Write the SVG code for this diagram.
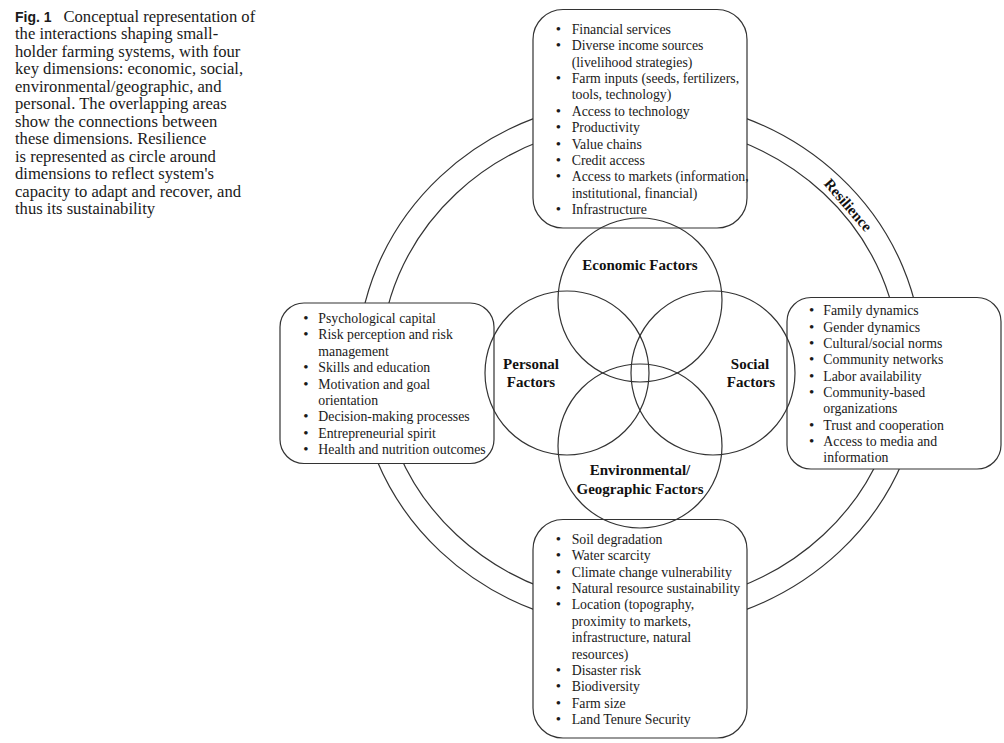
<svg xmlns="http://www.w3.org/2000/svg" width="1004" height="743" viewBox="0 0 1004 743">
<style>
.ring{fill:none;stroke:#333;stroke-width:1.2}
.box{fill:#fff;stroke:#333;stroke-width:1.2}
.venn{fill:none;stroke:#333;stroke-width:1.2}
.t{font-family:"Liberation Serif","Times New Roman",serif;font-size:13.8px;fill:#1a1a1a}
.b{font-family:"Liberation Serif","Times New Roman",serif;font-size:15px;fill:#1a1a1a;text-anchor:middle}
.lab{font-family:"Liberation Serif","Times New Roman",serif;font-size:15px;font-weight:bold;fill:#111;text-anchor:middle}
.cap{font-family:"Liberation Serif","Times New Roman",serif;font-size:16.6px;fill:#1a1a1a}
.fig{font-family:"Liberation Sans",Arial,sans-serif;font-size:14px;font-weight:bold;fill:#1a1a1a}
</style>
<rect width="1004" height="743" fill="#fff"/>
<g id="caption">
<text class="fig" x="15" y="21.5">Fig. 1</text>
<text class="cap" x="63.5" y="21.5">Conceptual representation of</text>
<text class="cap" x="15" y="39">the interactions shaping small-</text>
<text class="cap" x="15" y="56.5">holder farming systems, with four</text>
<text class="cap" x="15" y="74">key dimensions: economic, social,</text>
<text class="cap" x="15" y="91.5">environmental/geographic, and</text>
<text class="cap" x="15" y="109">personal. The overlapping areas</text>
<text class="cap" x="15" y="126.5">show the connections between</text>
<text class="cap" x="15" y="144">these dimensions. Resilience</text>
<text class="cap" x="15" y="161.5">is represented as circle around</text>
<text class="cap" x="15" y="179">dimensions to reflect system's</text>
<text class="cap" x="15" y="196.5">capacity to adapt and recover, and</text>
<text class="cap" x="15" y="214">thus its sustainability</text>
</g>
<g id="resilience">
<ellipse class="ring" cx="640" cy="364" rx="282.5" ry="265"/>
<ellipse class="ring" cx="640" cy="364" rx="259.5" ry="241.5"/>
<text class="lab" transform="translate(848,205) rotate(49)" x="0" y="5">Resilience</text>
</g>
<g id="economic-box">
<rect class="box" x="533" y="9.5" width="214" height="218.5" rx="30"/>
<text class="b" x="558.5" y="34">•</text><text class="t" x="571.7" y="34">Financial services</text>
<text class="b" x="558.5" y="50.4">•</text><text class="t" x="571.7" y="50.4">Diverse income sources</text>
<text class="t" x="571.7" y="66.7">(livelihood strategies)</text>
<text class="b" x="558.5" y="83.1">•</text><text class="t" x="571.7" y="83.1">Farm inputs (seeds, fertilizers,</text>
<text class="t" x="571.7" y="99.4">tools, technology)</text>
<text class="b" x="558.5" y="115.8">•</text><text class="t" x="571.7" y="115.8">Access to technology</text>
<text class="b" x="558.5" y="132.2">•</text><text class="t" x="571.7" y="132.2">Productivity</text>
<text class="b" x="558.5" y="148.5">•</text><text class="t" x="571.7" y="148.5">Value chains</text>
<text class="b" x="558.5" y="164.9">•</text><text class="t" x="571.7" y="164.9">Credit access</text>
<text class="b" x="558.5" y="181.2">•</text><text class="t" x="571.7" y="181.2">Access to markets (information,</text>
<text class="t" x="571.7" y="197.6">institutional, financial)</text>
<text class="b" x="558.5" y="214">•</text><text class="t" x="571.7" y="214">Infrastructure</text>
</g>
<g id="personal-box">
<rect class="box" x="280" y="303" width="214" height="160.5" rx="24"/>
<text class="b" x="306" y="323">•</text><text class="t" x="318.3" y="323">Psychological capital</text>
<text class="b" x="306" y="339.4">•</text><text class="t" x="318.3" y="339.4">Risk perception and risk</text>
<text class="t" x="318.3" y="355.8">management</text>
<text class="b" x="306" y="372.2">•</text><text class="t" x="318.3" y="372.2">Skills and education</text>
<text class="b" x="306" y="388.6">•</text><text class="t" x="318.3" y="388.6">Motivation and goal</text>
<text class="t" x="318.3" y="405">orientation</text>
<text class="b" x="306" y="421.4">•</text><text class="t" x="318.3" y="421.4">Decision-making processes</text>
<text class="b" x="306" y="437.8">•</text><text class="t" x="318.3" y="437.8">Entrepreneurial spirit</text>
<text class="b" x="306" y="454.2">•</text><text class="t" x="318.3" y="454.2">Health and nutrition outcomes</text>
</g>
<g id="social-box">
<rect class="box" x="787" y="297.5" width="214" height="171.5" rx="24"/>
<text class="b" x="811.7" y="315.3">•</text><text class="t" x="823.3" y="315.3">Family dynamics</text>
<text class="b" x="811.7" y="331.6">•</text><text class="t" x="823.3" y="331.6">Gender dynamics</text>
<text class="b" x="811.7" y="348">•</text><text class="t" x="823.3" y="348">Cultural/social norms</text>
<text class="b" x="811.7" y="364.3">•</text><text class="t" x="823.3" y="364.3">Community networks</text>
<text class="b" x="811.7" y="380.6">•</text><text class="t" x="823.3" y="380.6">Labor availability</text>
<text class="b" x="811.7" y="397">•</text><text class="t" x="823.3" y="397">Community-based</text>
<text class="t" x="823.3" y="413.3">organizations</text>
<text class="b" x="811.7" y="429.6">•</text><text class="t" x="823.3" y="429.6">Trust and cooperation</text>
<text class="b" x="811.7" y="445.9">•</text><text class="t" x="823.3" y="445.9">Access to media and</text>
<text class="t" x="823.3" y="462.3">information</text>
</g>
<g id="environmental-box">
<rect class="box" x="533" y="519.5" width="214" height="218.5" rx="30"/>
<text class="b" x="558.5" y="544">•</text><text class="t" x="571.7" y="544">Soil degradation</text>
<text class="b" x="558.5" y="560.4">•</text><text class="t" x="571.7" y="560.4">Water scarcity</text>
<text class="b" x="558.5" y="576.7">•</text><text class="t" x="571.7" y="576.7">Climate change vulnerability</text>
<text class="b" x="558.5" y="593.1">•</text><text class="t" x="571.7" y="593.1">Natural resource sustainability</text>
<text class="b" x="558.5" y="609.4">•</text><text class="t" x="571.7" y="609.4">Location (topography,</text>
<text class="t" x="571.7" y="625.8">proximity to markets,</text>
<text class="t" x="571.7" y="642.2">infrastructure, natural</text>
<text class="t" x="571.7" y="658.5">resources)</text>
<text class="b" x="558.5" y="674.9">•</text><text class="t" x="571.7" y="674.9">Disaster risk</text>
<text class="b" x="558.5" y="691.2">•</text><text class="t" x="571.7" y="691.2">Biodiversity</text>
<text class="b" x="558.5" y="707.6">•</text><text class="t" x="571.7" y="707.6">Farm size</text>
<text class="b" x="558.5" y="724">•</text><text class="t" x="571.7" y="724">Land Tenure Security</text>
</g>
<g id="economic-factors">
<circle class="venn" cx="640" cy="300" r="82"/>
<text class="lab" x="640" y="270">Economic Factors</text>
</g>
<g id="personal-factors">
<circle class="venn" cx="567" cy="373" r="82"/>
<text class="lab" x="531" y="368.5">Personal</text>
<text class="lab" x="531" y="387">Factors</text>
</g>
<g id="social-factors">
<circle class="venn" cx="713" cy="373" r="82"/>
<text class="lab" x="750" y="368.5">Social</text>
<text class="lab" x="751" y="387">Factors</text>
</g>
<g id="environmental-factors">
<circle class="venn" cx="640" cy="446" r="82"/>
<text class="lab" x="640" y="475">Environmental/</text>
<text class="lab" x="640" y="493.5">Geographic Factors</text>
</g>
<g id="connectors"></g>
</svg>
